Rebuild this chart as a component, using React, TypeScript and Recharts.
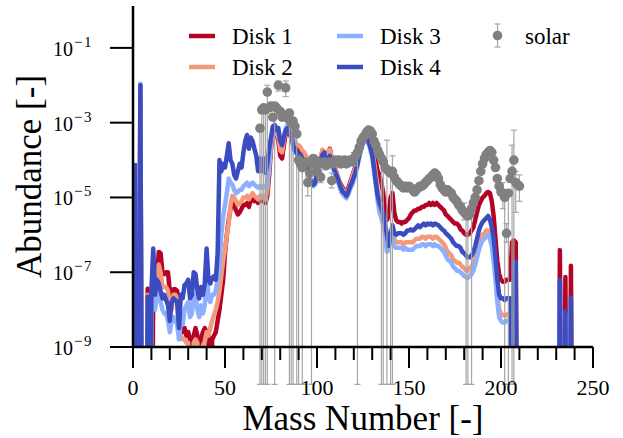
import { ComposedChart, Line, Scatter, ErrorBar, XAxis, YAxis, Legend } from "recharts";

const FONT = { fontFamily: "Times New Roman, Liberation Serif, serif" };

// values below the axis floor: the line drops off the bottom of the plot
const BELOW = 1e-15;
// lower end of error bars that run past the bottom of the plot
const FLOOR = 1e-10;
const Z = BELOW;

const MASS = Array.from({ length: 240 }, (_, i) => i + 1);

const DISK_1 = [
  8.3e-5, Z, Z, 1.0e-2, Z, Z, Z, 3.6e-8, 5.0e-9, Z, // 1
  4.0e-8, 1.6e-8, 5.0e-8, 3.5e-7, 3.2e-7, 1.0e-7, 8.9e-8, 1.0e-7, 1.0e-7, 3.2e-8, // 11
  1.6e-8, 3.5e-8, 3.5e-8, 3.2e-8, 6.3e-9, 4.0e-9, 2.5e-9, 3.2e-9, 2.0e-9, 2.5e-9, // 21
  1.6e-9, Z, 2.0e-9, 3.2e-9, 2.0e-9, Z, 1.6e-9, 2.5e-9, 3.2e-9, 2.5e-9, // 31
  2.0e-9, Z, 1.6e-9, 2.0e-9, 2.5e-9, 5.0e-9, 1.0e-8, 2.5e-8, 6.3e-8, 3.2e-7, // 41
  1.0e-6, 2.5e-6, 5.0e-6, 7.9e-6, 6.3e-6, 4.5e-6, 3.5e-6, 4.0e-6, 5.0e-6, 6.3e-6, // 51
  6.3e-6, 7.1e-6, 5.6e-6, 8.9e-6, 1.0e-5, 7.9e-6, 8.9e-6, 7.1e-6, 1.0e-5, 7.9e-6, // 61
  8.9e-6, 7.1e-6, 1.1e-5, 4.0e-5, 2.0e-4, 6.3e-4, 7.9e-4, 5.0e-4, 3.2e-4, 1.3e-4, // 71
  1.1e-4, 2.5e-4, 5.0e-4, 6.3e-4, 5.0e-4, 4.0e-4, 2.8e-4, 2.5e-4, 2.0e-4, 2.0e-4, // 81
  1.8e-4, 1.4e-4, 1.3e-4, 1.0e-4, 8.9e-5, 6.3e-5, 5.0e-5, 5.0e-5, 6.3e-5, 8.9e-5, // 91
  1.0e-4, 1.1e-4, 1.8e-4, 1.3e-4, 1.3e-4, 1.6e-4, 2.0e-4, 1.1e-4, 7.9e-5, 5.6e-5, // 101
  4.0e-5, 2.8e-5, 2.2e-5, 1.8e-5, 1.4e-5, 1.4e-5, 1.8e-5, 2.5e-5, 3.5e-5, 5.0e-5, // 111
  7.1e-5, 1.1e-4, 1.8e-4, 2.8e-4, 4.0e-4, 5.2e-4, 5.6e-4, 5.0e-4, 3.5e-4, 2.5e-4, // 121
  1.6e-4, 8.9e-5, 5.0e-5, 4.0e-5, 2.5e-5, 1.3e-5, 5.0e-6, 2.5e-6, 3.2e-6, 1.0e-5, // 131
  1.3e-5, 4.0e-6, 2.5e-6, 2.2e-6, 2.2e-6, 2.0e-6, 2.2e-6, 2.2e-6, 2.5e-6, 2.8e-6, // 141
  3.5e-6, 4.0e-6, 4.5e-6, 4.5e-6, 5.0e-6, 5.0e-6, 5.6e-6, 5.6e-6, 6.3e-6, 6.3e-6, // 151
  7.1e-6, 6.3e-6, 7.1e-6, 6.3e-6, 7.1e-6, 6.3e-6, 5.6e-6, 5.0e-6, 4.5e-6, 3.5e-6, // 161
  3.2e-6, 2.8e-6, 2.5e-6, 2.2e-6, 2.0e-6, 2.0e-6, 1.8e-6, 1.4e-6, 1.3e-6, 1.1e-6, // 171
  1.0e-6, 1.0e-6, 1.1e-6, 1.3e-6, 1.6e-6, 2.5e-6, 4.0e-6, 6.3e-6, 7.9e-6, 1.0e-5, // 181
  1.1e-5, 1.3e-5, 1.4e-5, 1.3e-5, 7.9e-6, 3.2e-6, 7.9e-7, 2.0e-7, 8.9e-8, 6.3e-8, // 191
  5.6e-8, 5.6e-8, 6.3e-8, 6.3e-8, 6.3e-8, 6.3e-7, 7.1e-7, 6.3e-7, Z, Z, // 201
  Z, Z, Z, Z, Z, Z, Z, Z, Z, Z, // 211
  Z, Z, Z, Z, Z, Z, Z, Z, Z, Z, // 221
  Z, 3.9e-7, Z, Z, 7.4e-8, Z, Z, 1.5e-7, Z, Z, // 231
];

const DISK_2 = [
  8.3e-5, Z, Z, 1.0e-2, Z, Z, Z, 2.5e-8, Z, 6.3e-9, // 1
  1.6e-7, 1.3e-8, 4.0e-8, 1.6e-7, 1.0e-7, 4.0e-8, 4.0e-8, 4.0e-8, 3.2e-8, 1.3e-8, // 11
  1.0e-8, 2.5e-8, 2.5e-8, 2.0e-8, 2.5e-9, 2.0e-9, 1.6e-9, 1.6e-9, 1.3e-9, 1.3e-9, // 21
  Z, Z, 1.3e-9, 1.6e-9, 1.3e-9, Z, Z, 1.1e-9, 1.4e-9, 2.5e-9, // 31
  2.0e-9, 3.2e-9, 5.0e-9, 7.1e-9, 1.0e-8, 1.6e-8, 3.2e-8, 7.9e-8, 2.0e-7, 4.0e-7, // 41
  1.0e-6, 2.0e-6, 6.3e-6, 1.1e-5, 1.0e-5, 7.9e-6, 6.3e-6, 7.1e-6, 7.9e-6, 1.0e-5, // 51
  1.0e-5, 1.1e-5, 8.9e-6, 1.1e-5, 1.3e-5, 1.1e-5, 1.0e-5, 8.9e-6, 1.1e-5, 1.0e-5, // 61
  1.1e-5, 8.9e-6, 1.6e-5, 6.3e-5, 2.5e-4, 7.1e-4, 8.9e-4, 5.6e-4, 4.0e-4, 1.8e-4, // 71
  1.6e-4, 3.5e-4, 5.6e-4, 7.1e-4, 6.3e-4, 5.0e-4, 3.5e-4, 3.2e-4, 2.5e-4, 2.5e-4, // 81
  2.2e-4, 1.8e-4, 1.6e-4, 1.3e-4, 1.1e-4, 7.9e-5, 5.6e-5, 5.6e-5, 7.9e-5, 1.1e-4, // 91
  1.1e-4, 1.2e-4, 1.9e-4, 1.35e-4, 1.35e-4, 1.7e-4, 1.9e-4, 1.1e-4, 7.9e-5, 5.6e-5, // 101
  4.0e-5, 2.8e-5, 2.0e-5, 1.6e-5, 1.4e-5, 1.3e-5, 1.6e-5, 2.2e-5, 3.2e-5, 4.5e-5, // 111
  6.3e-5, 1.0e-4, 1.6e-4, 2.5e-4, 3.5e-4, 4.5e-4, 4.8e-4, 4.0e-4, 2.8e-4, 1.8e-4, // 121
  8.9e-5, 4.0e-5, 1.6e-5, 7.9e-6, 5.0e-6, 3.2e-6, 1.8e-6, 7.9e-7, 5.0e-7, 1.0e-6, // 131
  1.4e-6, 7.9e-7, 6.3e-7, 6.3e-7, 6.3e-7, 6.3e-7, 5.6e-7, 6.3e-7, 6.3e-7, 6.3e-7, // 141
  6.3e-7, 6.3e-7, 7.1e-7, 7.9e-7, 7.9e-7, 7.9e-7, 8.9e-7, 8.9e-7, 7.9e-7, 8.9e-7, // 151
  8.9e-7, 8.9e-7, 7.9e-7, 8.9e-7, 8.9e-7, 7.9e-7, 7.1e-7, 6.3e-7, 5.6e-7, 4.5e-7, // 161
  3.5e-7, 3.2e-7, 2.8e-7, 2.2e-7, 2.0e-7, 1.8e-7, 1.8e-7, 1.6e-7, 1.4e-7, 1.3e-7, // 171
  1.1e-7, 1.1e-7, 1.3e-7, 1.4e-7, 1.8e-7, 2.5e-7, 4.0e-7, 6.3e-7, 7.9e-7, 1.0e-6, // 181
  1.1e-6, 1.3e-6, 1.3e-6, 1.1e-6, 7.1e-7, 3.2e-7, 1.0e-7, 2.5e-8, 1.0e-8, 7.9e-9, // 191
  7.1e-9, 7.1e-9, 7.1e-9, 7.9e-9, 7.9e-9, Z, Z, Z, Z, Z, // 201
  Z, Z, Z, Z, Z, Z, Z, Z, Z, Z, // 211
  Z, Z, Z, Z, Z, Z, Z, Z, Z, Z, // 221
  Z, 5.0e-8, Z, Z, 7.9e-9, Z, Z, 1.8e-8, Z, Z, // 231
];

const DISK_3 = [
  8.3e-5, Z, Z, 1.1e-2, Z, Z, Z, 1.3e-8, Z, 1.0e-8, // 1
  2.5e-7, 1.0e-8, 2.5e-8, 2.5e-8, 1.6e-8, 1.0e-8, 7.9e-9, 7.9e-9, 5.0e-9, 2.5e-9, // 11
  5.0e-9, 6.3e-9, 5.0e-9, 4.0e-9, 1.6e-9, 5.0e-9, 4.0e-9, 1.0e-8, 1.3e-8, 1.6e-8, // 21
  6.3e-9, 7.9e-9, 2.5e-8, 2.5e-8, 1.0e-8, 6.3e-9, 1.3e-8, 7.9e-9, 1.3e-8, 1.6e-7, // 31
  2.0e-8, 1.6e-8, 2.5e-8, 2.5e-8, 3.2e-8, 6.3e-8, 1.6e-7, 1.0e-6, 3.2e-6, 6.3e-6, // 41
  1.3e-5, 3.2e-5, 2.5e-5, 2.2e-5, 1.6e-5, 1.3e-5, 1.4e-5, 1.6e-5, 1.6e-5, 2.0e-5, // 51
  2.2e-5, 2.5e-5, 2.0e-5, 2.2e-5, 2.5e-5, 2.2e-5, 2.0e-5, 1.8e-5, 2.0e-5, 1.8e-5, // 61
  2.0e-5, 1.8e-5, 2.5e-5, 7.9e-5, 3.2e-4, 7.1e-4, 8.9e-4, 7.1e-4, 6.3e-4, 3.2e-4, // 71
  2.8e-4, 4.5e-4, 7.1e-4, 8.9e-4, 1.0e-3, 7.9e-4, 3.2e-4, 1.6e-4, 1.4e-4, 1.1e-4, // 81
  1.3e-4, 8.9e-5, 8.9e-5, 7.1e-5, 5.6e-5, 3.2e-5, 2.2e-5, 2.0e-5, 2.2e-5, 4.5e-5, // 91
  6.8e-5, 8.5e-5, 1.2e-4, 1.35e-4, 6.0e-5, 8.5e-5, 1.07e-4, 6.8e-5, 5.4e-5, 3.8e-5, // 101
  3.0e-5, 2.1e-5, 1.5e-5, 1.2e-5, 1.07e-5, 9.5e-6, 1.2e-5, 1.7e-5, 2.1e-5, 3.0e-5, // 111
  4.3e-5, 6.8e-5, 1.2e-4, 1.9e-4, 2.7e-4, 3.2e-4, 3.4e-4, 2.7e-4, 1.9e-4, 1.2e-4, // 121
  5.0e-5, 2.0e-5, 7.9e-6, 4.0e-6, 2.8e-6, 1.8e-6, 1.0e-6, 3.5e-7, 4.0e-7, 1.0e-6, // 131
  1.1e-6, 5.0e-7, 4.5e-7, 4.5e-7, 4.5e-7, 4.5e-7, 4.0e-7, 4.5e-7, 4.0e-7, 4.0e-7, // 141
  4.0e-7, 4.0e-7, 4.5e-7, 5.0e-7, 5.0e-7, 5.0e-7, 5.6e-7, 5.6e-7, 5.0e-7, 5.6e-7, // 151
  5.6e-7, 5.6e-7, 5.0e-7, 5.6e-7, 5.0e-7, 5.0e-7, 4.5e-7, 4.0e-7, 3.5e-7, 2.8e-7, // 161
  2.2e-7, 2.0e-7, 1.8e-7, 1.4e-7, 1.3e-7, 1.1e-7, 1.1e-7, 1.0e-7, 8.9e-8, 7.9e-8, // 171
  7.4e-8, 7.1e-8, 7.9e-8, 8.9e-8, 1.1e-7, 1.6e-7, 2.5e-7, 4.0e-7, 5.6e-7, 7.1e-7, // 181
  7.9e-7, 8.9e-7, 1.0e-6, 7.9e-7, 5.0e-7, 2.0e-7, 6.3e-8, 1.6e-8, 6.3e-9, 5.0e-9, // 191
  4.5e-9, 4.5e-9, 5.0e-9, 5.0e-9, 5.0e-9, Z, Z, Z, Z, Z, // 201
  Z, Z, Z, Z, Z, Z, Z, Z, Z, Z, // 211
  Z, Z, Z, Z, Z, Z, Z, Z, Z, Z, // 221
  Z, 4.0e-8, Z, Z, 6.3e-9, Z, Z, 1.4e-8, Z, Z, // 231
];

const DISK_4 = [
  8.3e-5, Z, Z, 1.0e-2, Z, Z, Z, 2.2e-8, Z, 3.2e-8, // 1
  4.3e-7, 2.5e-8, 6.3e-8, 5.0e-8, 3.2e-8, 2.0e-8, 2.5e-8, 1.8e-8, 1.3e-8, 5.0e-9, // 11
  1.6e-8, 2.0e-8, 1.8e-8, 1.6e-8, 3.2e-9, 2.5e-8, 2.0e-8, 4.5e-8, 5.0e-8, 6.3e-8, // 21
  2.0e-8, 2.5e-8, 1.0e-7, 8.9e-8, 3.2e-8, 2.0e-8, 4.0e-8, 2.5e-8, 5.0e-8, 4.3e-7, // 31
  6.3e-8, 5.0e-8, 7.1e-8, 7.9e-8, 6.3e-8, 3.2e-7, 1.0e-4, 5.0e-5, 7.9e-5, 6.3e-5, // 41
  1.3e-4, 2.8e-4, 1.0e-4, 7.9e-5, 4.0e-5, 3.2e-5, 5.0e-5, 7.9e-5, 6.3e-5, 1.6e-4, // 51
  3.2e-4, 4.7e-4, 2.0e-4, 4.0e-4, 3.2e-4, 2.0e-4, 1.3e-4, 5.0e-5, 1.1e-4, 5.0e-5, // 61
  1.1e-4, 4.5e-5, 7.9e-5, 2.0e-4, 4.0e-4, 7.9e-4, 8.5e-4, 6.3e-4, 7.1e-4, 3.2e-4, // 71
  2.5e-4, 4.0e-4, 6.3e-4, 7.1e-4, 5.6e-4, 5.0e-4, 2.5e-4, 1.8e-4, 1.6e-4, 1.3e-4, // 81
  1.4e-4, 1.0e-4, 1.0e-4, 7.9e-5, 6.3e-5, 3.5e-5, 2.5e-5, 2.2e-5, 2.5e-5, 5.0e-5, // 91
  7.9e-5, 1.0e-4, 1.4e-4, 1.6e-4, 7.1e-5, 1.0e-4, 1.3e-4, 7.9e-5, 6.3e-5, 4.5e-5, // 101
  3.5e-5, 2.5e-5, 1.8e-5, 1.4e-5, 1.3e-5, 1.1e-5, 1.4e-5, 2.0e-5, 2.5e-5, 3.5e-5, // 111
  5.0e-5, 7.9e-5, 1.4e-4, 2.2e-4, 3.2e-4, 3.8e-4, 4.0e-4, 3.2e-4, 2.2e-4, 1.4e-4, // 121
  6.3e-5, 2.5e-5, 1.1e-5, 7.1e-6, 5.0e-6, 3.5e-6, 2.0e-6, 1.0e-6, 5.0e-7, 1.0e-6, // 131
  1.8e-6, 1.1e-6, 1.0e-6, 1.1e-6, 1.1e-6, 1.1e-6, 1.0e-6, 1.1e-6, 1.3e-6, 1.3e-6, // 141
  1.4e-6, 1.3e-6, 1.4e-6, 1.6e-6, 1.8e-6, 1.6e-6, 1.8e-6, 2.0e-6, 1.8e-6, 2.0e-6, // 151
  1.9e-6, 2.0e-6, 1.8e-6, 2.0e-6, 1.9e-6, 1.8e-6, 1.6e-6, 1.4e-6, 1.3e-6, 1.1e-6, // 161
  1.0e-6, 8.9e-7, 7.9e-7, 6.3e-7, 5.6e-7, 5.0e-7, 5.0e-7, 4.5e-7, 3.5e-7, 3.2e-7, // 171
  2.8e-7, 2.5e-7, 2.5e-7, 2.8e-7, 3.5e-7, 5.0e-7, 7.9e-7, 1.3e-6, 1.8e-6, 2.2e-6, // 181
  2.5e-6, 2.8e-6, 3.2e-6, 2.5e-6, 1.6e-6, 7.9e-7, 2.5e-7, 6.3e-8, 2.5e-8, 2.0e-8, // 191
  2.0e-8, 1.8e-8, 2.0e-8, 2.0e-8, 2.0e-8, Z, 1.8e-7, 1.9e-7, Z, Z, // 201
  Z, Z, Z, Z, Z, Z, Z, Z, Z, Z, // 211
  Z, Z, Z, Z, Z, Z, Z, Z, Z, Z, // 221
  Z, 6.2e-8, Z, Z, 9.3e-9, Z, Z, 2.1e-8, Z, Z, // 231
];

// solar abundances, one point per mass number from A = 69 to A = 210
const SOLAR_MASS = Array.from({ length: 142 }, (_, i) => i + 69);
const SOLAR = [
  7.1e-4, 2.2e-3, 2.5e-3, 2.2e-3, 6.6e-3, 2.5e-3, 2.8e-3, 1.4e-3, 2.8e-3, 2.5e-3, // 69
  1.0e-2, 2.0e-3, 1.4e-3, 1.6e-3, 8.5e-3, 1.3e-3, 1.8e-3, 1.0e-3, 1.1e-3, 7.9e-4, // 79
  5.0e-4, 1.0e-4, 7.9e-5, 6.3e-5, 7.9e-5, 8.9e-5, 2.5e-5, 4.5e-5, 7.9e-5, 1.1e-4, // 89
  1.0e-4, 5.0e-5, 8.9e-5, 3.5e-5, 7.9e-5, 8.9e-5, 7.1e-5, 7.9e-5, 8.9e-5, 2.8e-5, // 99
  7.9e-5, 1.0e-4, 8.9e-5, 1.0e-4, 7.9e-5, 8.9e-5, 1.0e-4, 7.9e-5, 8.9e-5, 1.0e-4, // 109
  8.9e-5, 1.1e-4, 1.3e-4, 1.6e-4, 2.2e-4, 3.2e-4, 4.0e-4, 4.5e-4, 5.6e-4, 6.3e-4, // 119
  6.0e-4, 5.0e-4, 3.2e-4, 2.5e-4, 1.8e-4, 1.4e-4, 1.1e-4, 8.9e-5, 6.3e-5, 5.6e-5, // 129
  5.0e-5, 4.5e-5, 5.0e-5, 3.5e-5, 2.8e-5, 2.5e-5, 2.2e-5, 2.0e-5, 1.8e-5, 2.0e-5, // 139
  1.8e-5, 2.0e-5, 1.8e-5, 1.6e-5, 1.4e-5, 1.6e-5, 1.8e-5, 2.0e-5, 2.0e-5, 2.2e-5, // 149
  2.5e-5, 2.8e-5, 3.2e-5, 3.5e-5, 4.0e-5, 4.5e-5, 4.0e-5, 3.2e-5, 2.2e-5, 1.8e-5, // 159
  1.6e-5, 1.4e-5, 1.6e-5, 1.4e-5, 1.3e-5, 1.0e-5, 8.9e-6, 7.9e-6, 6.3e-6, 5.6e-6, // 169
  4.5e-6, 4.0e-6, 3.5e-6, 3.2e-6, 3.5e-6, 5.0e-6, 7.1e-6, 1.0e-5, 1.6e-5, 2.8e-5, // 179
  5.0e-5, 7.9e-5, 1.1e-4, 1.4e-4, 1.6e-4, 1.8e-4, 1.6e-4, 1.0e-4, 6.3e-5, 3.2e-5, // 189
  2.0e-5, 1.4e-5, 1.3e-5, 1.0e-5, 1.1e-6, 1.3e-5, 3.2e-5, 5.0e-5, 1.0e-4, 2.5e-5, // 199
  2.2e-5, 2.0e-5, // 209
];

// [mass, lower bound, upper bound] for the points whose error bars show
const SOLAR_ERRORS: [number, number, number][] = [
  [69, FLOOR, 7.1e-4], [70, FLOOR, 2.2e-3], [71, FLOOR, 2.5e-3], [72, FLOOR, 2.2e-3],
  [73, FLOOR, 1.0e-2], [77, FLOOR, 2.8e-3], [79, 7.0e-3, 1.3e-2], [83, 5.0e-3, 1.3e-2],
  [85, FLOOR, 1.8e-3], [86, FLOOR, 1.0e-3], [87, FLOOR, 1.1e-3], [89, FLOOR, 5.0e-4],
  [90, FLOOR, 1.0e-4], [92, FLOOR, 6.3e-5], [95, 1.1e-5, 3.5e-5], [97, FLOOR, 7.9e-5],
  [102, 2.5e-5, 5.4e-5], [108, 1.8e-5, 4.5e-5], [120, 7.1e-5, 1.6e-4], [122, FLOOR, 1.6e-4],
  [135, FLOOR, 1.1e-4], [136, FLOOR, 8.9e-5], [138, FLOOR, 3.4e-4], [140, FLOOR, 4.5e-5],
  [141, FLOOR, 1.3e-4], [180, 2.5e-6, 7.1e-6], [181, FLOOR, 3.5e-6], [182, FLOOR, 3.2e-6],
  [184, FLOOR, 5.0e-6], [201, 5.0e-6, 2.5e-5], [202, FLOOR, 1.0e-5], [203, 6.3e-7, 2.0e-6],
  [204, FLOOR, 1.3e-5], [206, FLOOR, 2.5e-4], [207, FLOOR, 6.3e-4], [208, 4.0e-6, 5.0e-5],
  [210, 7.9e-6, 4.0e-5],
];

const X_TICKS = [0, 10, 20, 30, 40, 50, 60, 70, 80, 90, 100, 110, 120, 130, 140, 150, 160, 170, 180, 190, 200, 210, 220, 230, 240, 250];
const Y_TICKS = [1e-9, 1e-7, 1e-5, 1e-3, 1e-1];
const Y_DOMAIN = [1e-9, 1.32];

const SERIES = [
  { key: "d1", name: "Disk 1", color: "#b40426", values: DISK_1 },
  { key: "d2", name: "Disk 2", color: "#f4997b", values: DISK_2 },
  { key: "d3", name: "Disk 3", color: "#8db0fe", values: DISK_3 },
  { key: "d4", name: "Disk 4", color: "#3b4cc0", values: DISK_4 },
];

const rows = MASS.map((mass, i) => {
  const row: Record<string, number> = { mass };
  SERIES.forEach((s) => (row[s.key] = s.values[i]));
  return row;
});

const solarRows = SOLAR_MASS.map((mass, i) => {
  const v = SOLAR[i];
  const e = SOLAR_ERRORS.find((r) => r[0] === mass);
  return { mass, solar: v, err: e ? [v - e[1], e[2] - v] : null };
});

function MassTick({ x, y, payload }: any) {
  const major = payload.value % 50 === 0;
  return (
    <g>
      <line x1={x} x2={x} y1={y} y2={y + (major ? 21 : 13)} stroke="#000" strokeWidth={2} />
      {major && (
        <text x={x} y={y + 48} textAnchor="middle" fontSize={22} style={FONT} fill="#000">
          {payload.value}
        </text>
      )}
    </g>
  );
}

function AbundanceTick({ x, y, payload }: any) {
  const exp = Math.round(Math.log10(payload.value));
  return (
    <g>
      <line x1={x - 23} x2={x} y1={y} y2={y} stroke="#000" strokeWidth={2} />
      <text x={x - 80} y={y + 8} fontSize={20} style={FONT} fill="#000">
        10
        <tspan dx={1} dy={-9} fontSize={15} letterSpacing={1.5}>{`\u2212${-exp}`}</tspan>
      </text>
    </g>
  );
}

function SolarDot({ cx, cy }: any) {
  return <circle cx={cx} cy={cy} r={4.8} fill="#808080" />;
}

function LegendBox() {
  const items = [
    { ...SERIES[0], x: 189, y: 36 },
    { ...SERIES[1], x: 189, y: 67 },
    { ...SERIES[2], x: 337, y: 36 },
    { ...SERIES[3], x: 337, y: 67 },
  ];
  return (
    <svg width={623} height={90} style={{ display: "block" }}>
      {items.map((it) => (
        <g key={it.key}>
          <line x1={it.x} x2={it.x + 26} y1={it.y} y2={it.y} stroke={it.color} strokeWidth={4.5} />
          <text x={it.x + 43} y={it.y + 7.5} fontSize={23} style={FONT} fill="#000">
            {it.name}
          </text>
        </g>
      ))}
      <g>
        <line x1={497.5} x2={497.5} y1={24} y2={47} stroke="#a6a6a6" strokeWidth={1.2} />
        <line x1={494.5} x2={500.5} y1={24} y2={24} stroke="#a6a6a6" strokeWidth={1.2} />
        <line x1={494.5} x2={500.5} y1={47} y2={47} stroke="#a6a6a6" strokeWidth={1.2} />
        <circle cx={497.5} cy={35.5} r={4.8} fill="#808080" />
        <text x={525} y={43.5} fontSize={23} style={FONT} fill="#000">
          solar
        </text>
      </g>
    </svg>
  );
}

export default function App() {
  return (
    <div style={{ position: "absolute", left: 0, top: 0, width: 623, height: 438, background: "#fff" }}>
      <ComposedChart width={623} height={438} data={rows} margin={{ top: 6, right: 30, bottom: 0, left: 0 }}>
        <XAxis
          dataKey="mass"
          type="number"
          domain={[0, 250]}
          ticks={X_TICKS}
          interval={0}
          height={91}
          tickSize={0}
          tickMargin={0}
          tickLine={false}
          tick={<MassTick />}
          axisLine={{ stroke: "#000", strokeWidth: 2.5 }}
          label={({ viewBox }: any) => (
            <text x={viewBox.x + viewBox.width / 2} y={430} textAnchor="middle" fontSize={35} style={FONT} fill="#000">
              Mass Number [-]
            </text>
          )}
        />
        <XAxis
          xAxisId="top"
          orientation="top"
          type="number"
          domain={[0, 250]}
          height={0}
          tick={false}
          tickLine={false}
          axisLine={{ stroke: "#000", strokeWidth: 2.5 }}
        />
        <YAxis
          type="number"
          scale="log"
          domain={Y_DOMAIN}
          allowDataOverflow
          ticks={Y_TICKS}
          interval={0}
          width={133}
          tickSize={0}
          tickMargin={0}
          tickLine={false}
          tick={<AbundanceTick />}
          axisLine={{ stroke: "#000", strokeWidth: 2.5 }}
          label={({ viewBox }: any) => {
            const cy = viewBox.y + viewBox.height / 2;
            return (
              <text x={41} y={cy} transform={`rotate(-90 41 ${cy})`} textAnchor="middle" fontSize={35} style={FONT} fill="#000">
                Abundance [-]
              </text>
            );
          }}
        />
        <YAxis
          yAxisId="right"
          orientation="right"
          type="number"
          scale="log"
          domain={Y_DOMAIN}
          allowDataOverflow
          width={0}
          tick={false}
          tickLine={false}
          axisLine={{ stroke: "#000", strokeWidth: 2.5 }}
        />
        {SERIES.map((s) => (
          <Line
            key={s.key}
            dataKey={s.key}
            name={s.name}
            type="linear"
            stroke={s.color}
            strokeWidth={4.5}
            strokeLinejoin="round"
            dot={false}
            activeDot={false}
            isAnimationActive={false}
          />
        ))}
        <Scatter data={solarRows} dataKey="solar" name="solar" shape={<SolarDot />} isAnimationActive={false}>
          <ErrorBar dataKey="err" direction="y" width={3} stroke="#a6a6a6" strokeWidth={1.2} />
        </Scatter>
        <Legend
          content={<LegendBox />}
          layout="horizontal"
          verticalAlign="middle"
          align="center"
          wrapperStyle={{ left: 0, top: 0, width: 623, height: 90 }}
        />
      </ComposedChart>
    </div>
  );
}
